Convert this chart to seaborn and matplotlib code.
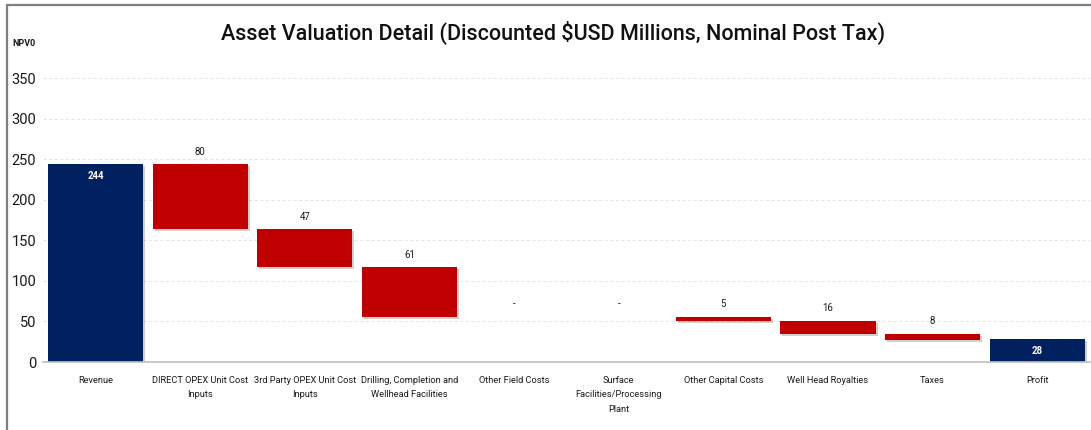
import numpy as np
import pandas as pd
import matplotlib
matplotlib.use("Agg")
import matplotlib.pyplot as plt
import matplotlib.patheffects as pe
from matplotlib.patches import Rectangle
import seaborn as sns

# Waterfall components (USD millions, discounted, nominal post tax)
categories = [
    "Revenue",
    "DIRECT OPEX Unit Cost\nInputs",
    "3rd Party OPEX Unit Cost\nInputs",
    "Drilling, Completion and\nWellhead Facilities",
    "Other Field Costs",
    "Surface\nFacilities/Processing\nPlant",
    "Other Capital Costs",
    "Well Head Royalties",
    "Taxes",
    "Profit",
]
revenue = 244
costs = [80, 47, 61, 0, 0, 5, 16, 8]
profit = 28

NAVY = "#002060"
RED = "#C00000"

# Step positions: each cost hangs down from the running total
heights = [revenue] + costs + [profit]
bottoms = [0]
running = revenue
for c in costs:
    running -= c
    bottoms.append(running)
bottoms.append(0)
kinds = ["total"] + ["cost"] * len(costs) + ["total"]

df = pd.DataFrame({"category": categories, "height": heights,
                   "bottom": bottoms, "kind": kinds})

sns.set_theme(style="white")
plt.rcParams["font.family"] = ["Roboto", "DejaVu Sans"]

fig = plt.figure(figsize=(10.91, 4.30), dpi=100)
ax = fig.add_axes([43.2 / 1091, 68 / 430, 1046.3 / 1091, 300.2 / 430])

sns.barplot(data=df, x="category", y="height", hue="kind",
            palette={"total": NAVY, "cost": RED}, width=0.91,
            dodge=False, legend=False, ax=ax, order=categories,
            edgecolor="none", linewidth=0, saturation=1)

# Lift each bar onto its running-total base
shadow = [pe.SimplePatchShadow(offset=(1.5, -1.5), shadow_rgbFace="#777777", alpha=0.35),
          pe.Normal()]
for p in ax.patches:
    cx = p.get_x() + p.get_width() / 2
    i = int(round(cx))
    if 0 <= i < len(df):
        p.set_y(df["bottom"][i])
        p.set_height(df["height"][i])
        p.set_path_effects(shadow)

ax.set_xlim(-0.5, len(categories) - 0.5)
ax.set_ylim(0, 370)
ax.set_yticks(np.arange(0, 351, 50))
ax.yaxis.grid(True, color="#e6e6e6", linestyle=(0, (3, 2)), linewidth=0.8)
ax.set_axisbelow(True)
for s in ["top", "right", "left"]:
    ax.spines[s].set_visible(False)
ax.spines["bottom"].set_color("#bfbfbf")
ax.spines["bottom"].set_linewidth(1.2)
ax.tick_params(axis="y", labelsize=10.5, colors="#1a1a1a", length=0, pad=5)
ax.tick_params(axis="x", labelsize=6.7, colors="#1a1a1a", length=0, pad=10)
for lab in ax.get_xticklabels():
    lab.set_linespacing(1.8)
ax.set_xlabel("")
ax.set_ylabel("")

# Value labels
label_font = dict(fontsize=6.9)
for i, row in df.iterrows():
    if row["kind"] == "cost":
        txt = "-" if row["height"] == 0 else f"{row['height']:.0f}"
        ax.text(i, row["bottom"] + row["height"] + 9, txt, ha="center",
                va="bottom", color="#1a1a1a", **label_font)
    elif i == 0:
        ax.text(i, row["height"] - 15, f"{row['height']:.0f}", ha="center",
                va="center", color="white", fontweight="bold", **label_font)
    else:
        ax.text(i, row["height"] / 2, f"{row['height']:.0f}", ha="center",
                va="center", color="white", fontweight="bold", **label_font)

fig.text(553 / 1091, 1 - 33 / 430,
         "Asset Valuation Detail (Discounted $USD Millions, Nominal Post Tax)",
         ha="center", va="center", fontsize=15.5, fontweight="medium", color="#111111")
fig.text(12 / 1091, 1 - 44 / 430, "NPV0", ha="left", va="center",
         fontsize=6.5, fontweight="bold", color="#1a1a1a")

# Outer chart frame
fig.add_artist(Rectangle((6.5 / 1091, -0.1), 1.2, 1.1 - 4.5 / 430,
                         transform=fig.transFigure, fill=False,
                         edgecolor="#7f7f7f", linewidth=1.6))

fig.savefig("out.png", dpi=100)
